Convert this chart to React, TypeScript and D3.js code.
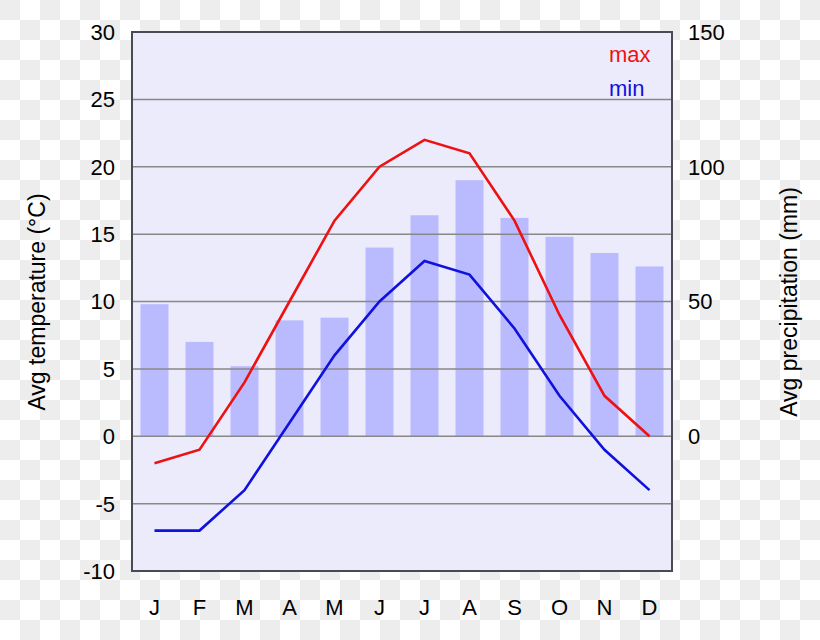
import { scaleLinear, scaleBand, line } from "d3";

const MONTHS = ["J", "F", "M", "A", "M", "J", "J", "A", "S", "O", "N", "D"];
const PRECIP = [49, 35, 26, 43, 44, 70, 82, 95, 81, 74, 68, 63];
const T_MAX = [-2, -1, 4, 10, 16, 20, 22, 21, 16, 9, 3, 0];
const T_MIN = [-7, -7, -4, 1, 6, 10, 13, 12, 8, 3, -1, -4];
const TEMP_TICKS = [-10, -5, 0, 5, 10, 15, 20, 25, 30];
const PRECIP_TICKS = [0, 50, 100, 150];

const W = 820, H = 640;
const P = { left: 132, right: 672, top: 32, bottom: 571 };
const FONT = "'Liberation Sans', Arial, sans-serif";

export default function App() {
  const idx = MONTHS.map((_, i) => String(i));
  const x = scaleBand().domain(idx).range([P.left, P.right]).paddingInner(0.378).paddingOuter(0.189);
  const yT = scaleLinear().domain([-10, 30]).range([P.bottom, P.top]);
  const yP = scaleLinear().domain([0, 150]).range([yT(0), P.top]);
  const cx = (i: number) => (x(String(i)) ?? 0) + x.bandwidth() / 2;
  const mk = line<number>().x((_, i) => cx(i)).y(d => yT(d));

  return (
    <svg width={W} height={H} style={{ position: "absolute", left: 0, top: 0 }} fontFamily={FONT}>
      <defs>
        <pattern id="chk" width={40} height={40} patternUnits="userSpaceOnUse">
          <rect width={40} height={40} fill="#fff"/>
          <rect width={20} height={20} fill="#ededed"/>
          <rect x={20} y={20} width={20} height={20} fill="#ededed"/>
        </pattern>
      </defs>
      <rect width={W} height={H} fill="url(#chk)"/>
      <rect x={P.left} y={P.top} width={P.right - P.left} height={P.bottom - P.top} fill="#ebebfb"/>
      {PRECIP.map((v, i) => (
        <rect key={i} x={x(String(i))} y={yP(v)} width={x.bandwidth()} height={yP(0) - yP(v)} fill="#babaff"/>
      ))}
      {TEMP_TICKS.filter(t => t > -10 && t < 30).map(t => (
        <line key={t} x1={P.left} x2={P.right} y1={yT(t)} y2={yT(t)} stroke="#888" strokeWidth={1.5}/>
      ))}
      <path d={mk(T_MAX) ?? ""} fill="none" stroke="#ee1111" strokeWidth={2.6}/>
      <path d={mk(T_MIN) ?? ""} fill="none" stroke="#1111dd" strokeWidth={2.6}/>
      <rect x={P.left} y={P.top} width={P.right - P.left} height={P.bottom - P.top} fill="none" stroke="#4a4a55" strokeWidth={2}/>

      {TEMP_TICKS.map(t => (
        <text key={t} x={115} y={yT(t)} dy="0.36em" textAnchor="end" fontSize={22}>{t}</text>
      ))}
      {PRECIP_TICKS.map(t => (
        <text key={t} x={688} y={yP(t)} dy="0.36em" fontSize={22}>{t}</text>
      ))}
      {MONTHS.map((m, i) => (
        <text key={i} x={cx(i)} y={615} textAnchor="middle" fontSize={22}>{m}</text>
      ))}
      <text x={609} y={62} fontSize={22} fill="#ee1111">max</text>
      <text x={609} y={96} fontSize={22} fill="#1111dd">min</text>
      <text transform="translate(45,302) rotate(-90)" textAnchor="middle" fontSize={23}>Avg temperature (°C)</text>
      <text transform="translate(797,302) rotate(-90)" textAnchor="middle" fontSize={23}>Avg precipitation (mm)</text>
    </svg>
  );
}
